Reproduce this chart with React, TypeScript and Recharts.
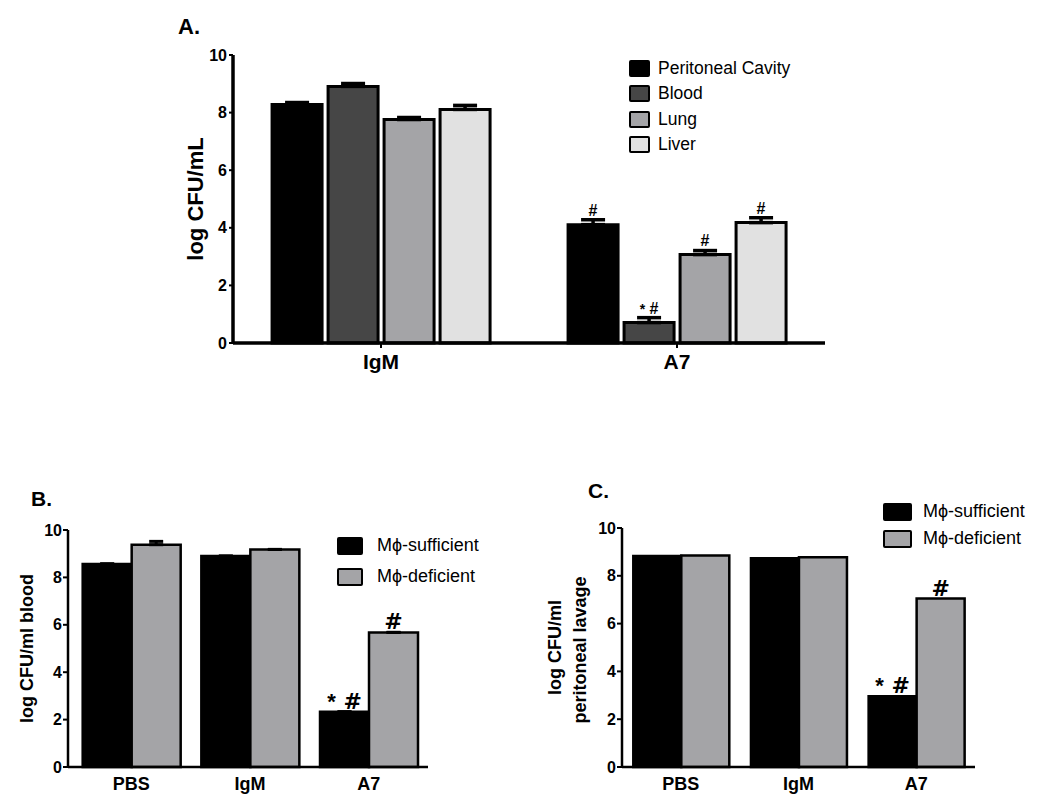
import React from "react";
import { BarChart, Bar, XAxis, YAxis, ErrorBar, LabelList } from "recharts";

const FONT = "'Liberation Sans', Arial, Helvetica, sans-serif";
const HASH_FONT = "'DejaVu Sans', 'Liberation Sans', sans-serif";

// ---- Panel A: organs, IgM vs A7 ----
const aGroups = ["IgM", "A7"];
const aPeritoneal = [8.28, 4.11];
const aPeritonealErr = [0.07, 0.17];
const aPeritonealMarks = ["", "#"];
const aBlood = [8.91, 0.71];
const aBloodErr = [0.1, 0.17];
const aBloodMarks = ["", "* #"];
const aLung = [7.76, 3.07];
const aLungErr = [0.07, 0.14];
const aLungMarks = ["", "#"];
const aLiver = [8.11, 4.18];
const aLiverErr = [0.14, 0.17];
const aLiverMarks = ["", "#"];

// ---- Panel B: blood ----
const bcGroups = ["PBS", "IgM", "A7"];
const bSufficient = [8.57, 8.9, 2.33];
const bSufficientErr = [0, 0, 0];
const bSufficientMarks = ["", "", "* #"];
const bDeficient = [9.38, 9.18, 5.68];
const bDeficientErr = [0.14, 0, 0];
const bDeficientMarks = ["", "", "#"];

// ---- Panel C: peritoneal lavage ----
const cSufficient = [8.83, 8.73, 2.96];
const cSufficientMarks = ["", "", "* #"];
const cDeficient = [8.85, 8.78, 7.05];
const cDeficientMarks = ["", "", "#"];

const yTicks = [0, 2, 4, 6, 8, 10];

const aData = aGroups.map((group, i) => ({
  group,
  peritoneal: aPeritoneal[i],
  peritonealErr: [0, aPeritonealErr[i]],
  peritonealMark: aPeritonealMarks[i],
  blood: aBlood[i],
  bloodErr: [0, aBloodErr[i]],
  bloodMark: aBloodMarks[i],
  lung: aLung[i],
  lungErr: [0, aLungErr[i]],
  lungMark: aLungMarks[i],
  liver: aLiver[i],
  liverErr: [0, aLiverErr[i]],
  liverMark: aLiverMarks[i],
}));

const bData = bcGroups.map((group, i) => ({
  group,
  suff: bSufficient[i],
  suffErr: [0, bSufficientErr[i]],
  suffMark: bSufficientMarks[i],
  def: bDeficient[i],
  defErr: [0, bDeficientErr[i]],
  defMark: bDeficientMarks[i],
}));

const cData = bcGroups.map((group, i) => ({
  group,
  suff: cSufficient[i],
  suffMark: cSufficientMarks[i],
  def: cDeficient[i],
  defMark: cDeficientMarks[i],
}));

const aSeries = [
  { key: "peritoneal", name: "Peritoneal Cavity", fill: "#000000" },
  { key: "blood", name: "Blood", fill: "#464646" },
  { key: "lung", name: "Lung", fill: "#a4a4a7" },
  { key: "liver", name: "Liver", fill: "#e1e1e1" },
];

const mphiSeries = [
  { key: "suff", name: "Mϕ-sufficient", fill: "#000000" },
  { key: "def", name: "Mϕ-deficient", fill: "#a4a4a7" },
];

// significance marks drawn above a bar
const makeMark = (family: string, size: number, starSize: number, lift: number) => (props: any) => {
  const { x, y, width, value } = props;
  if (!value) return null;
  const cx = Number(x) + Number(width) / 2;
  const txt = String(value);
  return (
    <text
      x={cx}
      y={Number(y) - lift}
      textAnchor="middle"
      fontFamily={family}
      fontWeight="bold"
      fontSize={size}
      fill="#000"
    >
      {txt.startsWith("*") ? (
        <>
          <tspan fontSize={starSize} fontFamily={FONT}>*</tspan>
          <tspan>{txt.slice(1)}</tspan>
        </>
      ) : (
        txt
      )}
    </text>
  );
};

type LegendProps = {
  items: { key: string; name: string; fill: string }[];
  left: number;
  top: number;
  w: number;
  h: number;
  row: number;
  gap: number;
  size: number;
};

const BoxLegend = ({ items, left, top, w, h, row, gap, size }: LegendProps) => (
  <div style={{ position: "absolute", left, top }}>
    {items.map((s) => (
      <div
        key={s.key}
        style={{
          display: "flex",
          alignItems: "center",
          height: row,
          fontFamily: FONT,
          fontSize: size,
          color: "#000",
          whiteSpace: "nowrap",
        }}
      >
        <span
          style={{
            display: "inline-block",
            width: w,
            height: h,
            background: s.fill,
            border: "2.5px solid #000",
            borderRadius: 2,
            boxSizing: "border-box",
            marginRight: gap,
          }}
        />
        {s.name}
      </div>
    ))}
  </div>
);

const title = (text: string, left: number, top: number, size: number) => (
  <div
    style={{
      position: "absolute",
      left,
      top,
      fontFamily: FONT,
      fontWeight: "bold",
      fontSize: size,
      lineHeight: `${size}px`,
      color: "#000",
    }}
  >
    {text}
  </div>
);

const App = () => {
  const markA = makeMark(FONT, 16, 14, 9);
  const markBC = makeMark(HASH_FONT, 22, 22, 3);

  return (
    <div style={{ position: "absolute", left: 0, top: 0, width: 1050, height: 811, background: "#fff" }}>
      {title("A.", 178, 16, 22)}
      <div style={{ position: "absolute", left: 150, top: 0 }}>
        <BarChart
          width={720}
          height={380}
          data={aData}
          margin={{ top: 55, right: 45, bottom: 8, left: 13 }}
          barCategoryGap="13.2%"
          barGap={6}
        >
          <XAxis
            dataKey="group"
            height={29}
            tickSize={5}
            tickMargin={6}
            axisLine={{ stroke: "#000", strokeWidth: 3.5 }}
            tickLine={{ stroke: "#000", strokeWidth: 2 }}
            tick={{ fill: "#000", fontSize: 21, fontWeight: "bold", fontFamily: FONT }}
          />
          <YAxis
            width={70}
            domain={[0, 10]}
            ticks={yTicks}
            interval={0}
            tickSize={4}
            tickMargin={2}
            axisLine={{ stroke: "#000", strokeWidth: 3.5 }}
            tickLine={{ stroke: "#000", strokeWidth: 2 }}
            tick={{ fill: "#000", fontSize: 16, fontWeight: "bold", fontFamily: FONT }}
            label={{
              value: "log CFU/mL",
              angle: -90,
              position: "insideLeft",
              offset: 32,
              style: { textAnchor: "middle", fill: "#000", fontSize: 22, fontWeight: "bold", fontFamily: FONT },
            }}
          />
          {aSeries.map((s) => (
            <Bar
              key={s.key}
              dataKey={s.key}
              name={s.name}
              fill={s.fill}
              stroke="#000"
              strokeWidth={3}
              isAnimationActive={false}
            >
              <ErrorBar dataKey={s.key + "Err"} width={12} stroke="#000" strokeWidth={3.5} direction="y" isAnimationActive={false} />
              <LabelList dataKey={s.key + "Mark"} content={markA} />
            </Bar>
          ))}
        </BarChart>
        <BoxLegend items={aSeries} left={479} top={56} w={21} h={17} row={25.3} gap={8} size={17.5} />
      </div>

      {title("B.", 31, 488, 21)}
      <div style={{ position: "absolute", left: 0, top: 480 }}>
        <BarChart
          width={520}
          height={330}
          data={bData}
          margin={{ top: 50, right: 92, bottom: 8, left: 18 }}
          barCategoryGap="9%"
          barGap={0}
        >
          <XAxis
            dataKey="group"
            height={35}
            padding={{ left: 4, right: 0 }}
            tickLine={false}
            tickSize={6}
            tickMargin={4}
            axisLine={{ stroke: "#000", strokeWidth: 2.5 }}
            tick={{ fill: "#000", fontSize: 18, fontWeight: "bold", fontFamily: FONT }}
          />
          <YAxis
            width={50}
            domain={[0, 10]}
            ticks={yTicks}
            interval={0}
            tickSize={5}
            tickMargin={1}
            axisLine={{ stroke: "#000", strokeWidth: 2.5 }}
            tickLine={{ stroke: "#000", strokeWidth: 2 }}
            tick={{ fill: "#000", fontSize: 16, fontWeight: "bold", fontFamily: FONT }}
            label={{
              value: "log CFU/ml blood",
              angle: -90,
              position: "insideLeft",
              offset: 9,
              style: { textAnchor: "middle", fill: "#000", fontSize: 18, fontWeight: "bold", fontFamily: FONT },
            }}
          />
          <Bar dataKey="suff" name="Mϕ-sufficient" fill="#000000" stroke="#000" strokeWidth={2.5} isAnimationActive={false}>
            <ErrorBar dataKey="suffErr" width={7} stroke="#000" strokeWidth={3} direction="y" isAnimationActive={false} />
            <LabelList dataKey="suffMark" content={markBC} />
          </Bar>
          <Bar dataKey="def" name="Mϕ-deficient" fill="#a4a4a7" stroke="#000" strokeWidth={2.5} isAnimationActive={false}>
            <ErrorBar dataKey="defErr" width={7} stroke="#000" strokeWidth={3} direction="y" isAnimationActive={false} />
            <LabelList dataKey="defMark" content={markBC} />
          </Bar>
        </BarChart>
        <BoxLegend items={mphiSeries} left={337} top={50} w={26} h={18} row={31} gap={14} size={18} />
      </div>

      {title("C.", 588, 480, 21)}
      <div style={{ position: "absolute", left: 520, top: 480 }}>
        <BarChart
          width={530}
          height={330}
          data={cData}
          margin={{ top: 48, right: 75, bottom: 8, left: 22 }}
          barCategoryGap="9.6%"
          barGap={0}
        >
          <XAxis
            dataKey="group"
            height={35}
            tickLine={false}
            tickSize={6}
            tickMargin={4}
            axisLine={{ stroke: "#000", strokeWidth: 2.5 }}
            tick={{ fill: "#000", fontSize: 18, fontWeight: "bold", fontFamily: FONT }}
          />
          <YAxis
            width={80}
            domain={[0, 10]}
            ticks={yTicks}
            interval={0}
            tickSize={5}
            tickMargin={1}
            axisLine={{ stroke: "#000", strokeWidth: 2.5 }}
            tickLine={{ stroke: "#000", strokeWidth: 2 }}
            tick={{ fill: "#000", fontSize: 16, fontWeight: "bold", fontFamily: FONT }}
            label={{
              value: "log CFU/ml",
              angle: -90,
              position: "insideLeft",
              offset: 13,
              style: { textAnchor: "middle", fill: "#000", fontSize: 18, fontWeight: "bold", fontFamily: FONT },
            }}
          />
          <Bar dataKey="suff" name="Mϕ-sufficient" fill="#000000" stroke="#000" strokeWidth={2.5} isAnimationActive={false}>
            <LabelList dataKey="suffMark" content={markBC} />
          </Bar>
          <Bar dataKey="def" name="Mϕ-deficient" fill="#a4a4a7" stroke="#000" strokeWidth={2.5} isAnimationActive={false}>
            <LabelList dataKey="defMark" content={markBC} />
          </Bar>
        </BarChart>
        <div
          style={{
            position: "absolute",
            left: 60,
            top: 170,
            transform: "translate(-50%, -50%) rotate(-90deg)",
            fontFamily: FONT,
            fontWeight: "bold",
            fontSize: 18,
            color: "#000",
            whiteSpace: "nowrap",
          }}
        >
          peritoneal lavage
        </div>
        <BoxLegend items={mphiSeries} left={363} top={18} w={29} h={18} row={27} gap={11} size={18} />
      </div>
    </div>
  );
};

export default App;
